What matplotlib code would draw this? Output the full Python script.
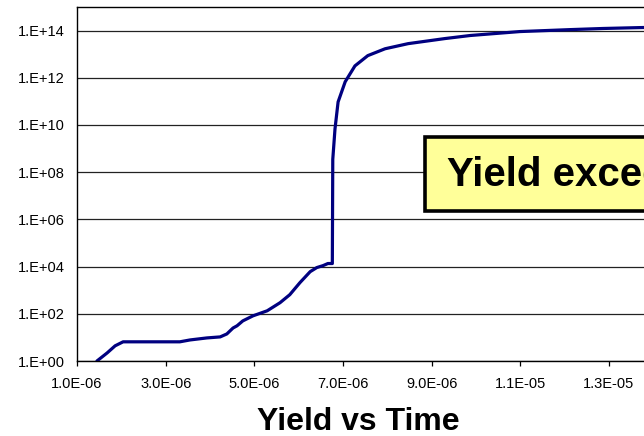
import matplotlib
matplotlib.use("Agg")
import matplotlib.pyplot as plt
from matplotlib.ticker import FuncFormatter, FixedLocator
from matplotlib.patches import Rectangle
import numpy as np

plt.rcParams['font.family'] = ['Liberation Sans', 'DejaVu Sans']

# time (s) and yield
time = [1.45e-6, 1.68e-6, 1.86e-6, 2.04e-6, 2.26e-6, 3.32e-6, 3.55e-6, 3.93e-6,
        4.23e-6, 4.38e-6, 4.52e-6, 4.61e-6, 4.74e-6, 4.97e-6, 5.29e-6, 5.58e-6,
        5.80e-6, 6.03e-6, 6.26e-6, 6.41e-6, 6.55e-6, 6.66e-6, 6.75e-6, 6.76e-6,
        6.77e-6, 6.82e-6, 6.89e-6, 7.05e-6, 7.27e-6, 7.56e-6, 7.95e-6, 8.47e-6,
        9.30e-6, 9.87e-6, 1.099e-5, 1.212e-5, 1.287e-5, 1.377e-5, 1.43e-5]
yield_ = [1.0, 2.2, 4.4, 6.5, 6.5, 6.5, 7.8, 9.5,
          10.5, 14, 25, 31, 50, 82, 134, 295,
          645, 2100, 6100, 9100, 11000, 13500, 13500, 13500,
          3.5e8, 6.8e9, 9.5e10, 6.8e11, 3.2e12, 8.7e12, 1.7e13, 2.8e13,
          4.6e13, 6.2e13, 9.1e13, 1.1e14, 1.23e14, 1.35e14, 1.4e14]

ytick_vals = [1e0, 1e2, 1e4, 1e6, 1e8, 1e10, 1e12, 1e14]
xtick_vals = [1e-6, 3e-6, 5e-6, 7e-6, 9e-6, 1.1e-5, 1.3e-5]

W, H = 644, 436
fig = plt.figure(figsize=(W / 100, H / 100), dpi=100)
ax = fig.add_axes([77 / W, 75 / H, 620.6 / W, 354 / H])

ax.plot(time, yield_, color='#000080', lw=2.3, solid_joinstyle='round',
        solid_capstyle='round')
ax.set_yscale('log')
ax.set_ylim(1, 1e15)
ax.set_xlim(1e-6, 1.5e-5)

ax.set_yticks(ytick_vals)
ax.yaxis.set_minor_locator(plt.NullLocator())
ax.yaxis.set_major_formatter(FuncFormatter(lambda v, p: "1.E+%02d" % int(round(np.log10(v)))))
ax.xaxis.set_major_locator(FixedLocator(xtick_vals))
ax.xaxis.set_major_formatter(FuncFormatter(lambda v, p: "%.1E" % v))

ax.grid(axis='y', color='#222222', lw=0.9)
ax.set_axisbelow(True)
ax.tick_params(axis='y', length=0, pad=9, labelsize=10.5)
ax.tick_params(axis='x', direction='out', length=3.6, width=0.9, pad=8, labelsize=10.5)
for s in ax.spines.values():
    s.set_linewidth(1.0)

# highlighted note box (runs off the right edge, as in the original)
fig.patches.append(Rectangle((425 / W, 1 - 211 / H), 300 / W, 74 / H,
                             transform=fig.transFigure, facecolor='#FFFF99',
                             edgecolor='black', lw=2.6, zorder=5))
fig.text(447 / W, 1 - 175 / H, "Yield exceeds 1E+14", fontsize=29, fontweight='bold',
         va='center', ha='left', zorder=6)

fig.text(358 / W, 1 - 422 / H, "Yield vs Time", fontsize=23, fontweight='bold',
         ha='center', va='center')

fig.savefig("out.png", dpi=100)
